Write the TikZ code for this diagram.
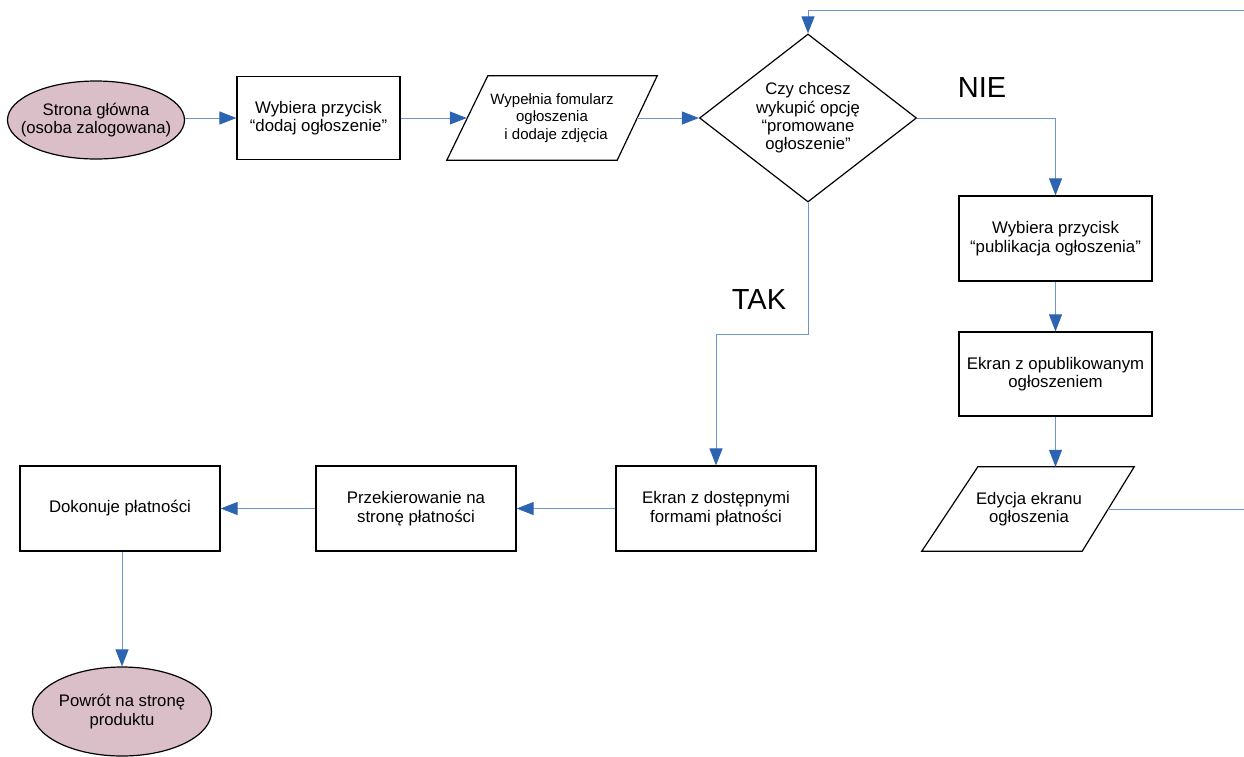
\documentclass[tikz,border=0pt]{standalone}
\usepackage{fontspec}
\setmainfont{Liberation Sans}
\usetikzlibrary{shapes.geometric,arrows.meta,calc}
\definecolor{linec}{RGB}{110,150,205}
\definecolor{arrc}{RGB}{45,100,178}
\definecolor{pinkc}{RGB}{219,191,200}
\begin{document}
\begin{tikzpicture}[x=1pt,y=-1pt,
  boxnode/.style={draw=black,line width=1.2pt,rectangle,inner sep=0pt,align=center,font=\fontsize{16.8}{18.5}\selectfont},
  termnode/.style={draw=black,line width=1.2pt,ellipse,fill=pinkc,inner sep=0pt},
  termtext/.style={inner sep=0pt,align=center,font=\fontsize{16.7}{18.5}\selectfont},
  parnode/.style={rectangle,inner sep=0pt,align=center,font=\fontsize{15}{17.3}\selectfont},
  decnode/.style={draw=black,line width=1.2pt,diamond,inner sep=0pt,aspect=1.29,align=center,font=\fontsize{16.7}{18.3}\selectfont},
  biglabel/.style={font=\fontsize{29}{31}\selectfont},
  conn/.style={draw=linec,line width=1pt,-{Triangle[length=17pt,width=13pt,color=arrc]}},
  plainconn/.style={draw=linec,line width=1pt}
]
\useasboundingbox (0,0) rectangle (1244,756);

\node[termnode,minimum width=177pt,minimum height=78pt] (s1) at (96,120) {};
\node[termtext] (s1t) at (s1.center) {Strona główna\\(osoba zalogowana)};
\node[boxnode,minimum width=163pt,minimum height=83pt] (b1) at (318.5,118) {Wybiera przycisk\\“dodaj ogłoszenie”};
\node[parnode,minimum width=170pt,minimum height=84pt] (p1) at (552,118) {Wypełnia fomularz\\ogłoszenia\\\ \ i dodaje zdjęcia};
\draw[line width=1.2pt,line join=miter] ($(p1.north west)+(21,0)$) -- ($(p1.north east)+(20,0)$) -- ($(p1.south east)+(-20,0)$) -- ($(p1.south west)+(-20,0)$) -- cycle;
\node[decnode,minimum width=217pt,minimum height=168pt] (d) at (808,118) {Czy chcesz\\wykupić opcję\\“promowane\\ogłoszenie”};
\node[biglabel] (nie) at (982,88) {NIE};
\node[biglabel] (tak) at (759,300) {TAK};
\node[boxnode,minimum width=193pt,minimum height=85pt] (b2) at (1055.5,238.5) {Wybiera przycisk\\“publikacja ogłoszenia”};
\node[boxnode,minimum width=193pt,minimum height=84pt] (b3) at (1055.5,374) {Ekran z opublikowanym\\ogłoszeniem};
\node[parnode,minimum width=158pt,minimum height=84pt,font=\fontsize{16.7}{18.5}\selectfont] (p2) at (1029,509) {Edycja ekranu\\ogłoszenia};
\draw[line width=1.2pt,line join=miter] ($(p2.north west)+(28,0)$) -- ($(p2.north east)+(26,0)$) -- ($(p2.south east)+(-26,0)$) -- ($(p2.south west)+(-28,0)$) -- cycle;
\node[boxnode,minimum width=200pt,minimum height=85pt] (b4) at (716,508.5) {Ekran z dostępnymi\\formami płatności};
\node[boxnode,minimum width=200pt,minimum height=85pt] (b5) at (416,508.5) {Przekierowanie na\\stronę płatności};
\node[boxnode,minimum width=200pt,minimum height=85pt] (b6) at (120,508.5) {Dokonuje płatności};
\node[termnode,minimum width=179pt,minimum height=89pt] (e2) at (122,711.5) {};
\node[termtext] (e2t) at (e2.center) {Powrót na stronę\\produktu};

\coordinate (r1) at (1244,509);
\coordinate (r2) at (1244,10);

\draw[conn] (s1.east |- b1.west) -- (b1.west);
\draw[conn] (b1.east) -- (p1.west);
\draw[conn] (p1.east) -- (d.west);
\draw[conn] (d.east) -| (b2.north);
\draw[conn] (b2.south) -- (b3.north);
\draw[conn] (b3.south) -- (b3.south |- p2.north);
\draw[plainconn] (p2.east) -- (r1);
\draw[conn] (r2) -| (d.north);
\draw[conn] (d.south) -- ++(0,132) -| (b4.north);
\draw[conn] (b4.west) -- (b5.east);
\draw[conn] (b5.west) -- (b6.east);
\draw[conn] (b6.south -| e2.north) -- (e2.north);
\end{tikzpicture}
\end{document}
